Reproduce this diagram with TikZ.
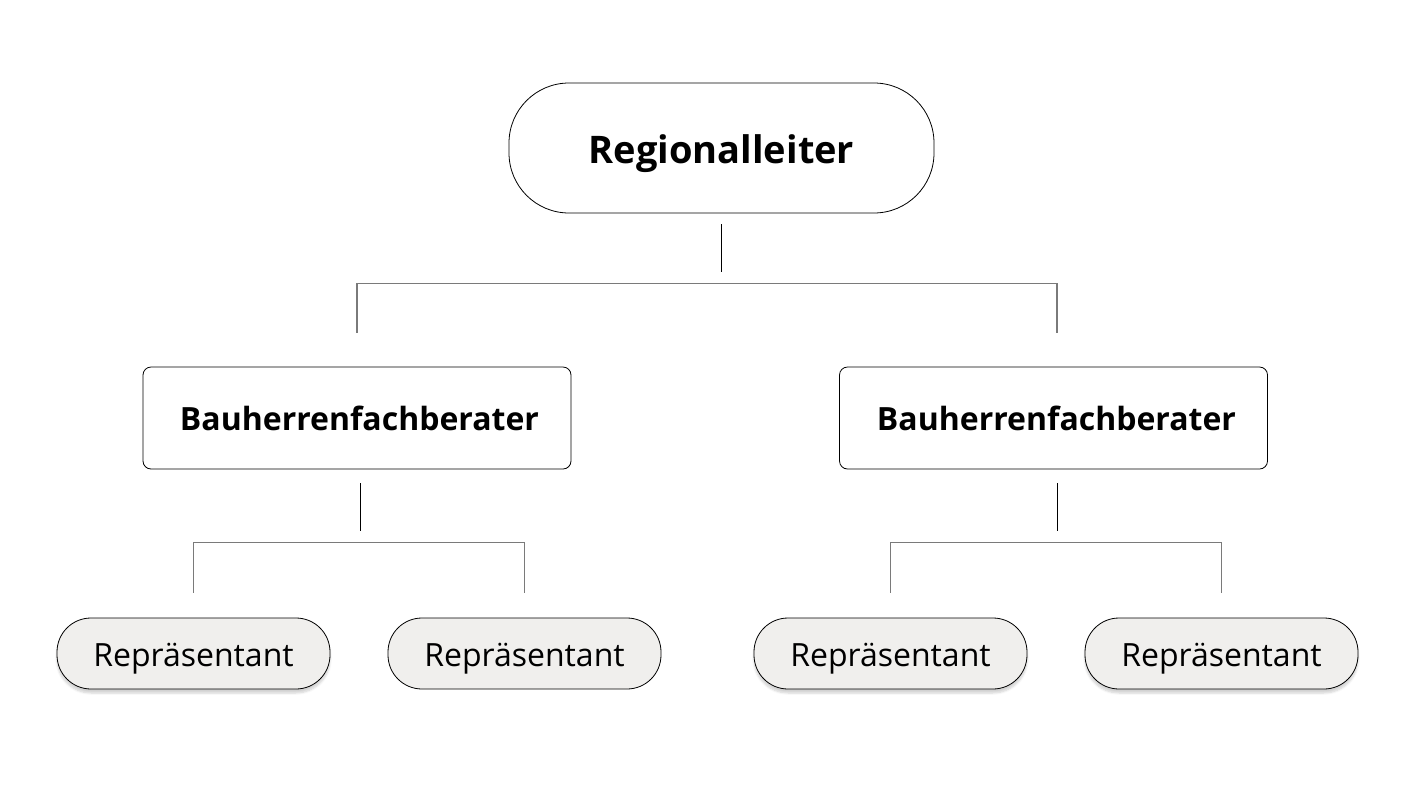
\documentclass[tikz,border=0pt]{standalone}
\usepackage{fontspec}
\setmainfont{Open Sans}
\usetikzlibrary{shadows.blur}

\definecolor{pillgray}{HTML}{F0EFED}
\definecolor{bracketgray}{HTML}{7A7A7A}

\tikzset{
  chief/.style={draw=black, line width=0.8pt, fill=white, rounded corners=60pt,
    minimum width=425pt, minimum height=130pt, text height=30pt, text depth=0pt,
    font=\fontsize{38}{44}\selectfont\bfseries},
  advisor/.style={draw=black, line width=0.8pt, fill=white, rounded corners=8pt,
    minimum width=428pt, minimum height=102pt, text height=25.6pt, text depth=0pt,
    font=\fontsize{32}{38}\selectfont\bfseries},
  rep/.style={draw=black, line width=0.8pt, fill=pillgray, rounded corners=34pt,
    minimum width=273pt, minimum height=71pt, text height=25pt, text depth=0pt,
    font=\fontsize{32}{38}\selectfont},
  repshadow/.style={blur shadow={shadow blur steps=6, shadow xshift=0pt,
    shadow yshift=-4pt, shadow opacity=18}},
  stem/.style={black, line width=0.8pt},
  bracket/.style={bracketgray, line width=1.4pt},
}

\begin{document}
\begin{tikzpicture}[x=1pt, y=-1pt]
    \useasboundingbox (0,0) rectangle (1414,796);

    \node[chief] (reg) at (721.5,148) {Regionalleiter};

    \node[advisor] (bl) at (357,418) {\hspace*{5pt}Bauherrenfachberater};
    \node[advisor] (br) at (1053.5,418) {\hspace*{6pt}Bauherrenfachberater};

    \node[rep, repshadow] (r1) at (193.5,653.5) {Repräsentant};
    \node[rep] (r2) at (524.5,653.5) {Repräsentant};
    \node[rep, repshadow] (r3) at (890.5,653.5) {Repräsentant};
    \node[rep, repshadow] (r4) at (1221.5,653.5) {Repräsentant};

    % Regionalleiter -> Bauherrenfachberater
    \draw[stem] ([yshift=-11pt]reg.south) -- ++(0,48);
    \draw[bracket] ([yshift=34pt]bl.north) -- ++(0,-49) -| ([yshift=34pt,xshift=3.5pt]br.north);

    % Bauherrenfachberater -> Repraesentanten
    \draw[stem] ([yshift=-14pt,xshift=3pt]bl.south) -- ++(0,48);
    \draw[bracket] ([yshift=25pt]r1.north) -- ++(0,-50) -| ([yshift=25pt]r2.north);

    \draw[stem] ([yshift=-14pt,xshift=3.5pt]br.south) -- ++(0,48);
    \draw[bracket] ([yshift=25pt]r3.north) -- ++(0,-50) -| ([yshift=25pt]r4.north);
\end{tikzpicture}
\end{document}
